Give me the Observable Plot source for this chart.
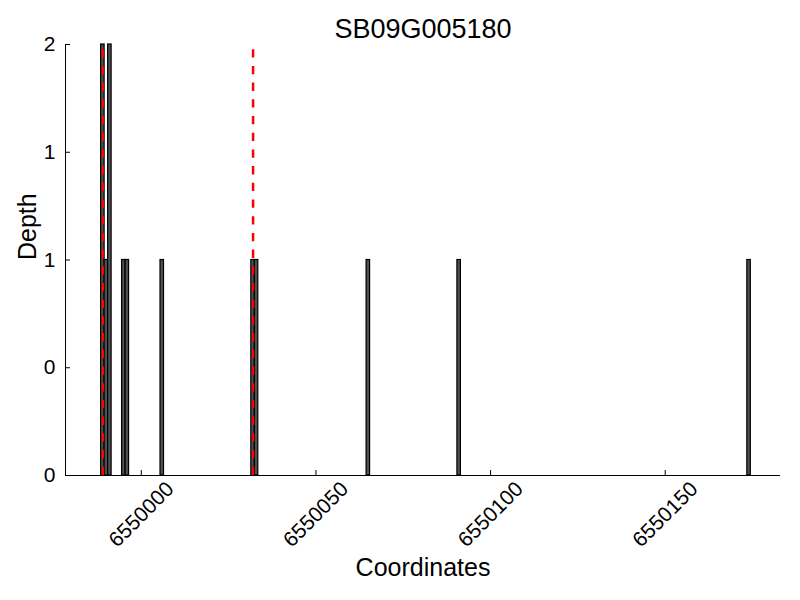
<!DOCTYPE html>
<html><head><meta charset="utf-8">
<script src="https://cdn.jsdelivr.net/npm/d3@7"></script>
<script src="https://cdn.jsdelivr.net/npm/@observablehq/plot@0.6"></script>
<style>body{margin:0;background:#fff}</style>
</head><body><div id="chart"></div>
<script>
const title = "SB09G005180";
const xLabel = "Coordinates";
const yLabel = "Depth";
const positions = [6549989, 6549990, 6549991, 6549995, 6549996, 6550006, 6550032, 6550033, 6550065, 6550091, 6550174];
const depths = [2, 1, 2, 1, 1, 1, 1, 1, 1, 1, 1];
const markers = [6549989, 6550032];
const xTicks = [6550000, 6550050, 6550100, 6550150];
const yTicks = [0, 0.5, 1, 1.5, 2];
const xDomain = [6549978.3, 6550183.0];
const yDomain = [0, 2];

const data = positions.map((p, i) => ({pos: p, depth: depths[i]}));
const font = '"Liberation Sans", Arial, Helvetica, sans-serif';

const chart = Plot.plot({
  width: 800, height: 600,
  marginLeft: 65, marginRight: 20, marginTop: 44, marginBottom: 125,
  style: {fontFamily: font, background: "white", overflow: "visible", color: "black"},
  x: {domain: xDomain},
  y: {domain: yDomain},
  marks: [
    Plot.rect(data, {x1: d => d.pos - 0.5, x2: d => d.pos + 0.5, y1: 0, y2: "depth", fill: "#505050", stroke: "#000", strokeWidth: 1.2}),
    Plot.ruleX(markers, {x: d => d, y1: yDomain[0], y2: yDomain[1], stroke: "red", strokeWidth: 2.5, strokeDasharray: "8.3,8.4"}),
    Plot.ruleY([yDomain[0]], {stroke: "black", strokeWidth: 1}),
    Plot.ruleX([xDomain[0]], {stroke: "black", strokeWidth: 1}),
    Plot.axisY({ticks: yTicks, tickSize: -5, tickPadding: 15, tickFormat: d => String(Math.floor(d)), fontSize: 21, label: null}),
    Plot.axisX({ticks: xTicks, tickSize: -5, tickFormat: () => "", label: null}),
    Plot.text(xTicks, {x: d => d, text: d => String(d), frameAnchor: "bottom", dy: 39, rotate: -45, textAnchor: "middle", lineAnchor: "middle", fontSize: 21}),
    Plot.text([title], {frameAnchor: "top", dy: -15, fontSize: 27, lineAnchor: "middle"}),
    Plot.text([xLabel], {frameAnchor: "bottom", dy: 92, fontSize: 25, lineAnchor: "middle"}),
    Plot.text([yLabel], {frameAnchor: "left", dx: -38, rotate: -90, fontSize: 25, lineAnchor: "middle"})
  ]
});
document.getElementById("chart").appendChild(chart);
</script>
</body></html>
